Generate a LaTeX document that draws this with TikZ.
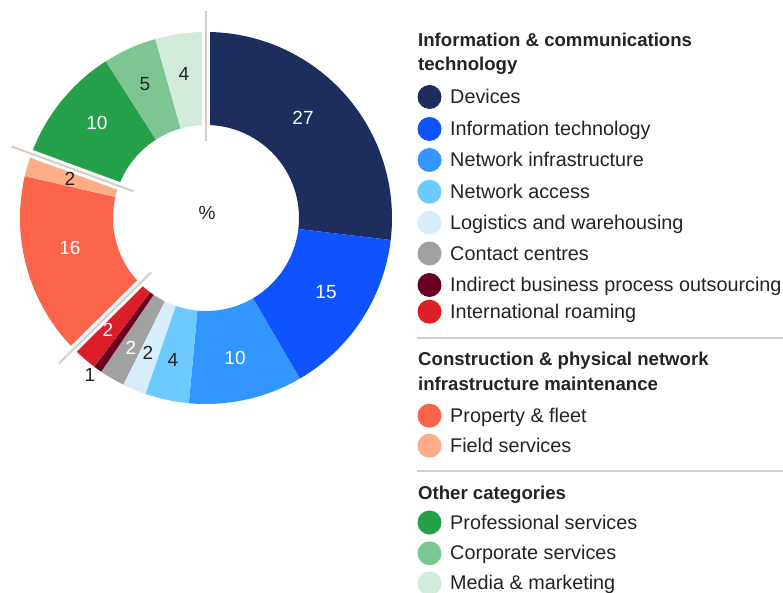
\documentclass[tikz,border=0pt]{standalone}
\usepackage{fontspec}
\setmainfont{Liberation Sans}
\usepackage{tikz}

\definecolor{ink}{HTML}{232323}
\definecolor{rulegrey}{HTML}{D5CEC6}
\definecolor{devices}{HTML}{1C2D5E}
\definecolor{infotech}{HTML}{0F53FF}
\definecolor{netinfra}{HTML}{3396FF}
\definecolor{netaccess}{HTML}{6DCAFF}
\definecolor{logistics}{HTML}{D6EDFB}
\definecolor{contact}{HTML}{A1A1A1}
\definecolor{indirect}{HTML}{6A0021}
\definecolor{roaming}{HTML}{DA1F2A}
\definecolor{property}{HTML}{F9644A}
\definecolor{field}{HTML}{FFAC88}
\definecolor{professional}{HTML}{25A14A}
\definecolor{corporate}{HTML}{7DC693}
\definecolor{media}{HTML}{D3EBDA}

\tikzset{
  legdot/.style={circle, inner sep=0pt, minimum size=24pt},
  legtext/.style={anchor=base west, inner sep=0pt, text=ink,
    font=\fontsize{19.8}{23}\selectfont},
  leghead/.style={anchor=base west, inner sep=0pt, text=ink,
    font=\fontsize{18.6}{23}\selectfont\bfseries},
  valdark/.style={inner sep=0pt, text=ink, font=\fontsize{19}{19}\selectfont},
  vallight/.style={valdark, text=white},
  rule/.style={draw=rulegrey, line width=2pt}
}

\begin{document}
\begin{tikzpicture}[x=1pt,y=-1pt]
\useasboundingbox (0,0) rectangle (783,593);

% donut
\begin{scope}[shift={(206,218)}, y=1pt]
\foreach \a/\b/\c in {90/-6.8/devices, -6.8/-59.7/infotech,
  -59.7/-95.3/netinfra, -95.3/-109/netaccess, -109/-116.4/logistics,
  -116.4/-124.3/contact, -124.3/-126.9/indirect, -126.9/-135.3/roaming,
  224.7/167/property, 167/159.8/field,
  159.8/122.6/professional, 122.6/105.8/corporate, 105.8/90/media}
{
\fill[\c] (\a:186) arc[start angle=\a, end angle=\b, radius=186]
  -- (\b:93) arc[start angle=\b, end angle=\a, radius=93] -- cycle;
}
\foreach \a in {90,159.8,224.7}
{
\draw[white, line width=8pt] (\a:70) -- (\a:200);
\draw[rule] (\a:77) -- (\a:207);
}
\end{scope}

% slice values
\node[vallight] (vDevices) at (303,118) {27};
\node[vallight] (vInfotech) at (326,292) {15};
\node[vallight] (vNetinfra) at (235,358) {10};
\node[valdark] (vNetaccess) at (173,360) {4};
\node[valdark] (vLogistics) at (148,353) {2};
\node[vallight] (vContact) at (131,348) {2};
\node[valdark] (vIndirect) at (90,375) {1};
\node[vallight] (vRoaming) at (108,330) {2};
\node[vallight] (vProperty) at (70,248) {16};
\node[valdark] (vField) at (70,179) {2};
\node[vallight] (vProfessional) at (97,123) {10};
\node[valdark] (vCorporate) at (145,84) {5};
\node[valdark] (vMedia) at (184,74) {4};
\node[valdark] (pct) at (207,213) {\%};

% legend
\node[leghead] (ictHeadA) at (418,46.5) {Information \& communications};
\node[leghead] (ictHeadB) at (418,71) {technology};
\foreach \y/\c/\t in {97/devices/Devices, 129/infotech/Information technology,
  160/netinfra/Network infrastructure, 191.7/netaccess/Network access,
  222.7/logistics/Logistics and warehousing, 253.5/contact/Contact centres,
  285/indirect/Indirect business process outsourcing,
  311.7/roaming/International roaming,
  415.7/property/Property \& fleet, 445.7/field/Field services,
  522.5/professional/Professional services, 553.3/corporate/Corporate services,
  583.3/media/Media \& marketing}
{
\node[legdot, fill=\c] (dot-\c) at (429.5,\y) {};
\node[legtext] (lab-\c) at (450,\y+6.6) {\t};
}
\draw[rule] (417,338.3) -- (783,338.3);
\node[leghead] (conHeadA) at (418,365.7) {Construction \& physical network};
\node[leghead] (conHeadB) at (418,390.5) {infrastructure maintenance};
\draw[rule] (417,471) -- (783,471);
\node[leghead] (othHead) at (418,499.5) {Other categories};
\end{tikzpicture}
\end{document}
